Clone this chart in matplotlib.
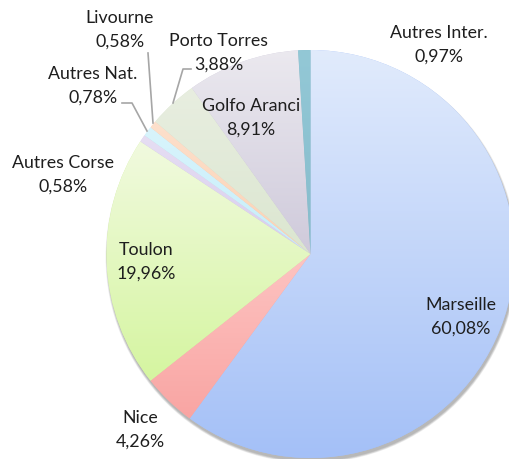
import numpy as np
import matplotlib
matplotlib.use("Agg")
import matplotlib.pyplot as plt
from matplotlib.colors import to_rgba
from matplotlib.patches import Circle

# ---- data ----
labels = ["Marseille", "Nice", "Toulon", "Autres Corse", "Autres Nat.",
          "Livourne", "Porto Torres", "Golfo Aranci", "Autres Inter."]
values = [60.08, 4.26, 19.96, 0.58, 0.78, 0.58, 3.88, 8.91, 0.97]

# gradient colours (top, bottom) per slice
colors_top = ["#e1ebfc", "#fdc4c2", "#f1fadf", "#e6def3", "#d8f4fc",
              "#fde0cc", "#e8eee0", "#ebe9ef", "#93c8d6"]
colors_bottom = ["#a4c0f7", "#f9a5a3", "#d5f5a0", "#d8cdee", "#c6eefa",
                 "#fbd2b4", "#dbe6d0", "#cfcadb", "#86bccc"]

# label positions (pixel coords, from top-left)
label_pos = [(461, 305), (140, 418), (146, 250), (63, 163), (93, 74),
             (120, 18), (219, 41), (251, 106), (439, 33)]

W, H = 509, 459
fig = plt.figure(figsize=(W / 100, H / 100), dpi=100)
ax = fig.add_axes([0, 0, 1, 1])

cx, cy, R = 310.5, H - 254, 204

# soft shadow
for i in range(6):
    ax.add_patch(Circle((cx + 1, cy - 3), R + 0.4 * (5 - i), color="#000000",
                        alpha=0.05, lw=0, zorder=0))

wedges, _ = ax.pie(values, center=(cx, cy), radius=R, startangle=90,
                   counterclock=False, colors=colors_bottom,
                   wedgeprops=dict(linewidth=0))

for w, ct, cb in zip(wedges, colors_top, colors_bottom):
    w.set_zorder(1)
    bb = w.get_path().get_extents()
    n = 256
    t = np.linspace(0, 1, n)[:, None]
    top = np.array(to_rgba(ct))
    bot = np.array(to_rgba(cb))
    grad = (bot * (1 - t) + top * t)[:, None, :]
    im = ax.imshow(grad, extent=(bb.x0, bb.x1, bb.y0, bb.y1), origin="lower",
                   aspect="auto", interpolation="bilinear", zorder=2)
    im.set_clip_path(w)

ax.set_xlim(0, W)
ax.set_ylim(0, H)
ax.set_aspect("equal")
ax.axis("off")

font = "Lato"
fs = 12.8
for lab, v, (x, y) in zip(labels, values, label_pos):
    pct = f"{v:.2f}".replace(".", ",") + "%"
    ax.text(x, H - y, lab, ha="center", va="center", fontsize=fs,
            family=font, color="#1e1e1e", zorder=5)
    ax.text(x, H - y - 24, pct, ha="center", va="center", fontsize=fs,
            family=font, color="#1e1e1e", zorder=5)

# leader lines
lc = "#a6a6a6"
ax.plot([148, 153], [H - 53, H - 123], color=lc, lw=1.2, zorder=4)
ax.plot([122, 132, 147], [H - 103, H - 103, H - 131], color=lc, lw=1.2, zorder=4)
ax.plot([191, 183, 173], [H - 69, H - 69, H - 103], color=lc, lw=1.2, zorder=4)

fig.savefig("out.png", dpi=100)
